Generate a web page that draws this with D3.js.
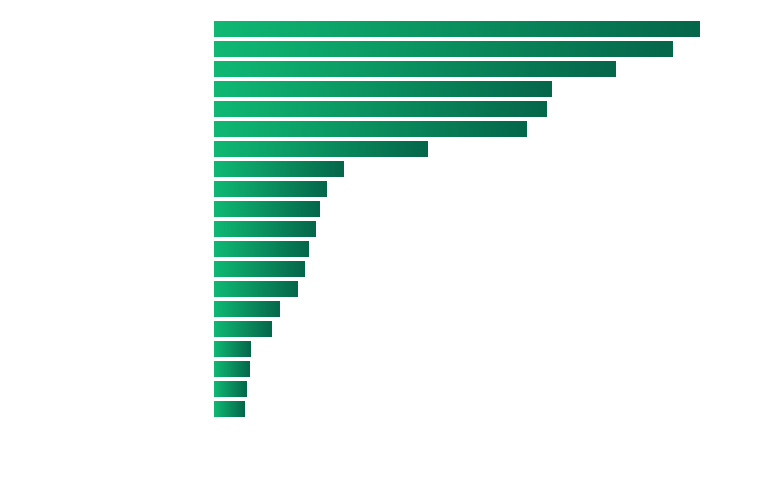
<!DOCTYPE html>
<html>
<head>
<meta charset="utf-8">
<script src="https://cdn.jsdelivr.net/npm/d3@7"></script>
<style>
  html, body { margin: 0; padding: 0; background: #ffffff; }
  svg { display: block; font-family: "Noto Sans", sans-serif; }
</style>
</head>
<body>
<div id="chart"></div>
<script>
// categories, top to bottom (labels are drawn in white, as in the original)
const categories = [
  "Category 1", "Category 2", "Category 3", "Category 4", "Category 5",
  "Category 6", "Category 7", "Category 8", "Category 9", "Category 10",
  "Category 11", "Category 12", "Category 13", "Category 14", "Category 15",
  "Category 16", "Category 17", "Category 18", "Category 19", "Category 20"
]
// values
const values = [486, 459, 402, 338, 333, 313, 214, 130, 113, 106,
                102, 95, 91, 84, 66, 58, 37, 36, 33, 31]
const caption = "Sentiment count by category"

const width = 761
const height = 491
const marginLeft = 214
const marginTop = 19
const barArea = 400       // 20 bars, step 20
const xMax = 500
const xWidth = 500         // pixels spanned by xMax

const x = d3.scaleLinear([0, xMax], [marginLeft, marginLeft + xWidth])
const y = d3.scaleBand(categories, [marginTop, marginTop + barArea])
  .paddingInner(0.2)
  .paddingOuter(0.1)

const svg = d3.select("#chart")
  .append("svg")
  .attr("width", width)
  .attr("height", height)
  .attr("viewBox", [0, 0, width, height])

// per-bar horizontal gradient
const defs = svg.append("defs")
const grad = defs.append("linearGradient")
  .attr("id", "barGrad")
  .attr("x1", "0%").attr("x2", "100%")
  .attr("y1", "0%").attr("y2", "0%")
grad.append("stop").attr("offset", "0%").attr("stop-color", "#0fb873")
grad.append("stop").attr("offset", "100%").attr("stop-color", "#05664a")

// bars
svg.append("g")
  .selectAll("rect")
  .data(values)
  .join("rect")
  .attr("x", x(0))
  .attr("y", (d, i) => y(categories[i]))
  .attr("width", d => x(d) - x(0))
  .attr("height", y.bandwidth())
  .attr("fill", "url(#barGrad)")

// y axis labels (white)
const yAxis = d3.axisLeft(y).tickSize(0).tickPadding(8)
svg.append("g")
  .attr("transform", `translate(${marginLeft},0)`)
  .call(yAxis)
  .call(g => g.select(".domain").remove())
  .call(g => g.selectAll("text")
    .attr("fill", "#ffffff")
    .style("font-size", "12px"))

// caption under the chart (white)
svg.append("text")
  .attr("x", 40)
  .attr("y", 468)
  .attr("fill", "#ffffff")
  .style("font-size", "15px")
  .text(caption)
</script>
</body>
</html>
